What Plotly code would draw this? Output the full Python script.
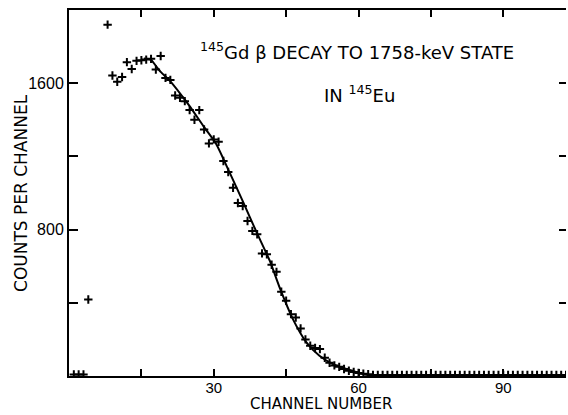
import plotly.graph_objects as go

# Measured spectrum (channel, counts)
channels = [1, 2, 3, 4, 8, 9, 10, 11, 12, 13, 14, 15, 16, 17, 18, 19, 20,
            21, 22, 23, 24, 25, 26, 27, 28, 29, 30, 31, 32, 33, 34, 35, 36,
            37, 38, 39, 40, 41, 42, 43, 44, 45, 46, 47, 48, 49, 50, 51, 52,
            53, 54, 55, 56, 57, 58, 59, 60, 61, 62, 63, 64, 65, 66, 67, 68,
            69, 70, 71, 72, 73, 74, 75, 76, 77, 78, 79, 80, 81, 82, 83, 84,
            85, 86, 87, 88, 89, 90, 91, 92, 93, 94, 95, 96, 97, 98, 99, 100,
            101, 102, 103]
counts = [8, 8, 8, 418, 1920, 1642, 1608, 1634, 1715, 1678, 1722, 1725, 1729,
          1733, 1675, 1749, 1629, 1618, 1533, 1520, 1502, 1453, 1400, 1453,
          1347, 1271, 1293, 1280, 1175, 1115, 1029, 945, 929, 847, 793, 775,
          670, 665, 608, 569, 460, 411, 338, 320, 260, 200, 165, 153, 147,
          100, 72, 58, 50, 38, 29, 22, 16, 12, 10, 6, 6, 6, 6, 6, 6, 6, 6, 6,
          6, 6, 6, 6, 6, 6, 6, 6, 6, 6, 6, 6, 6, 6, 6, 6, 6, 6, 6, 6, 6, 6,
          6, 6, 6, 6, 6, 6, 6, 6, 6, 6, 6]

# Fitted curve
fit_ch = [15.5, 17, 18, 19, 21, 23, 25, 28, 30.5, 33.3, 36.1, 38.8, 41.6,
          43.7, 46.4, 49.2, 51.9, 54.7, 57.5, 60, 62, 65, 103]
fit_counts = [1735, 1728, 1695, 1662, 1610, 1545, 1475, 1360, 1268, 1111,
              950, 790, 630, 480, 311, 184, 111, 65, 38, 18, 6, 0, 0]

x_labelled_ticks = [30, 60, 90]
x_minor_step = 15
y_labelled_ticks = [800, 1600]
y_minor_step = 400
y_all_ticks = [0, 400, 800, 1200, 1600, 2000]

FONT = "DejaVu Sans"
NUMFONT = "Liberation Sans"
tickstyle = dict(ticks="inside", tickwidth=2, tickcolor="black")

fig = go.Figure()
fig.add_trace(go.Scatter(
    x=fit_ch, y=fit_counts, mode="lines",
    line=dict(color="black", width=2, shape="spline", smoothing=0.6),
    hoverinfo="skip", showlegend=False))
fig.add_trace(go.Scatter(
    x=channels, y=counts, mode="markers",
    marker=dict(symbol="cross-thin", size=6, line=dict(color="black", width=2)),
    showlegend=False))
# invisible trace to activate the right-hand tick axis
fig.add_trace(go.Scatter(x=[0], y=[0], yaxis="y2", mode="markers",
                         marker=dict(opacity=0), hoverinfo="skip",
                         showlegend=False))

fig.update_layout(
    width=568, height=415,
    margin=dict(l=69, r=2, t=10, b=39),
    paper_bgcolor="white", plot_bgcolor="white",
    font=dict(family=FONT, color="black"),
    xaxis=dict(range=[0, 103], tickmode="array", tickvals=x_labelled_ticks,
               ticklen=7, **tickstyle,
               minor=dict(tick0=0, dtick=x_minor_step, ticklen=7, **tickstyle,
                          showgrid=False),
               showline=True, linecolor="black", linewidth=2, mirror="ticks",
               showgrid=False, zeroline=False, ticklabelstandoff=-3,
               tickfont=dict(size=15, family=NUMFONT)),
    yaxis=dict(range=[0, 2000], tickmode="array", tickvals=y_labelled_ticks,
               ticklen=9, **tickstyle,
               minor=dict(tick0=0, dtick=y_minor_step, ticklen=9, **tickstyle,
                          showgrid=False),
               showline=True, linecolor="black", linewidth=2,
               showgrid=False, zeroline=False,
               tickfont=dict(size=16, family=NUMFONT)),
    yaxis2=dict(range=[0, 2000], overlaying="y", side="right",
                tickvals=y_all_ticks, showticklabels=False,
                ticklen=7, **tickstyle,
                showline=False, showgrid=False, zeroline=False),
    annotations=[
        dict(text="<sup>145</sup>Gd β DECAY TO 1758-keV STATE",
             x=0.58, y=0.927, xref="paper", yref="paper",
             showarrow=False, font=dict(size=18, family=FONT)),
        dict(text="IN <sup>145</sup>Eu",
             x=0.585, y=0.809, xref="paper", yref="paper",
             showarrow=False, font=dict(size=18, family=FONT)),
        dict(text="CHANNEL NUMBER", x=0.508, y=-0.1066,
             xref="paper", yref="paper", xanchor="center", yanchor="bottom",
             showarrow=False, font=dict(size=15, family=FONT)),
        dict(text="COUNTS PER CHANNEL", x=-0.0966, y=0.5, textangle=-90,
             xref="paper", yref="paper", xanchor="center", yanchor="middle",
             showarrow=False, font=dict(size=17, family=FONT)),
    ],
)

fig.write_html("out.html")
